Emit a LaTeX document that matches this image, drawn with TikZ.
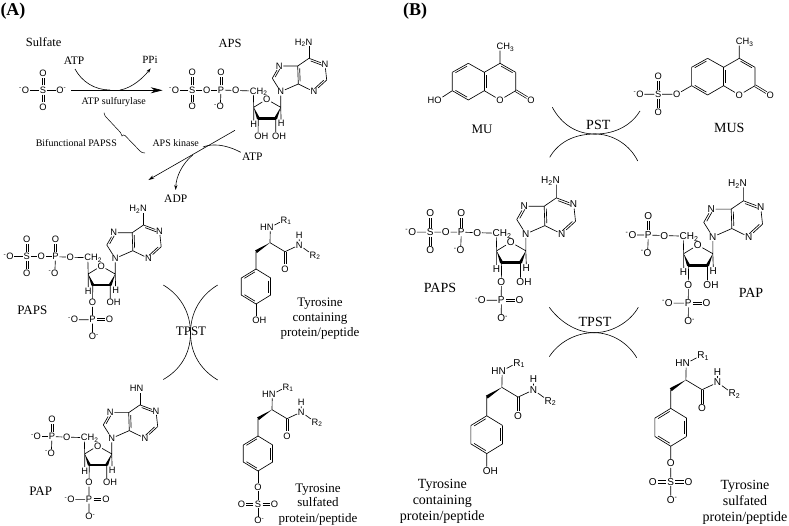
\documentclass[tikz,border=0pt]{standalone}
\usepackage{fontspec}
\setmainfont{Liberation Serif}
\newfontfamily\chemfont{Liberation Sans}
\usetikzlibrary{calc,arrows.meta}
\def\atomsize{9.3}
\newcommand{\atomfont}{\chemfont\fontsize{\atomsize}{\atomsize}\selectfont}
\newcommand{\lab}[1]{\fontsize{#1}{#1}\selectfont}
\newcommand{\negL}{\llap{\textsuperscript{-}}}
\newcommand{\negR}{\rlap{\textsuperscript{-}}}
\tikzset{
  atom/.style={font=\atomfont,inner sep=0.6pt,text depth=0pt},
  bond/.style={line width=0.65pt},
  arc/.style={line width=0.6pt},
  tag/.style={inner sep=0pt,align=center,text depth=0pt},
  smalltip/.style={-{Stealth[length=5pt,width=3.2pt]}},
}
% inner line of a ring double bond
\newcommand{\dbl}[3]{%
  \draw[bond] (#1) -- (#2);
  \draw[bond,shorten <=2.5pt,shorten >=2.5pt] ($(#1)!1.9pt!#3:(#2)$) -- ($(#2)!1.9pt!-#3:(#1)$);}
% exocyclic double bond between two atoms; #3 is the shortening at the start
\newcommand{\ddb}[3]{%
  \draw[bond,line width=0.55pt,shorten <=#3,shorten >=4.6pt] ($(#1)!1pt!90:(#2)$) -- ($(#2)!1pt!-90:(#1)$);
  \draw[bond,line width=0.55pt,shorten <=#3,shorten >=4.6pt] ($(#1)!1pt!-90:(#2)$) -- ($(#2)!1pt!90:(#1)$);}
% wedge: narrow at #1, wide at #2
\newcommand{\wedgebond}[3]{%
  \fill ($(#1)$) -- ($(#2)!#3!90:(#1)$) -- ($(#2)!#3!-90:(#1)$) -- cycle;}
% adenine + ribose, coordinates in the frame of APS
\newcommand{\Nucleoside}[1]{%
  \node[atom] (n6) at (309,42) {#1};
  \coordinate (c6) at (309,58.3);
  \node[atom] (n1) at (325,64.3) {N};
  \coordinate (c2) at (326.7,80);
  \node[atom] (n3) at (314,91.7) {N};
  \coordinate (c4) at (298.3,84);
  \coordinate (c5) at (297.7,66);
  \node[atom] (n7) at (279.3,66) {N};
  \coordinate (c8) at (272.3,78.3);
  \node[atom] (n9) at (280.7,91.7) {N};
  \coordinate (r1) at (280.7,107.3);
  \node[atom] (ro) at (266.7,99.3) {O};
  \coordinate (r2) at (275.7,118.3);
  \coordinate (r3) at (258.3,118.3);
  \coordinate (r4) at (253.7,107.3);
  \node[atom] (ch) at (253.3,91) {C\rlap{H\textsubscript{2}}};
  \node[atom] (hl) at (253.7,124.3) {H};
  \node[atom] (hr) at (281.2,123.5) {H};
  \node[atom] (o2) at (275.7,136) {O\rlap{H}};
  \draw[bond] (c6) -- (n6);
  \dbl{c6}{n1}{-90}
  \draw[bond] (n1) -- (c2);
  \dbl{c2}{n3}{-90}
  \draw[bond] (n3) -- (c4);
  \dbl{c4}{c5}{-90}
  \draw[bond] (c5) -- (c6) (c5) -- (n7) (c8) -- (n9) (n9) -- (c4);
  \dbl{n7}{c8}{90}
  \draw[bond] (r1) -- (n9) (r1) -- (ro) (ro) -- (r4) (r4) -- (ch) (r4) -- (hl) (r1) -- (hr) (r2) -- (o2);
  \wedgebond{r4}{r3}{1.5pt}
  \wedgebond{r1}{r2}{1.5pt}
  \draw[line width=2.6pt,line cap=round] (r3) -- (r2);
}
\newcommand{\ThreeOH}{%
  \node[atom] (o3) at (258,136) {O\rlap{H}};
  \draw[bond] (r3) -- (o3);}
\newcommand{\ThreePhos}{%
  \node[atom] (o3) at (258,136) {O};
  \node[atom] (p3) at (258,153) {P};
  \node[atom] (p3l) at (240,153) {\negL O};
  \node[atom] (p3r) at (275,153) {O};
  \node[atom] (p3b) at (258,170) {O\negR};
  \draw[bond] (r3) -- (o3) (o3) -- (p3) (p3) -- (p3l) (p3) -- (p3b);
  \ddb{p3}{p3r}{4.6pt}}
\newcommand{\FivePhos}{%
  \node[atom] (o5) at (235.7,90.5) {O};
  \node[atom] (p5) at (221,90) {P};
  \node[atom] (p5t) at (221,72.7) {O};
  \node[atom] (p5b) at (220.3,106.7) {\negL O};
  \draw[bond] (ch) -- (o5) (o5) -- (p5) (p5) -- (p5b);
  \ddb{p5}{p5t}{4.6pt}}
\newcommand{\FiveEnd}{%
  \node[atom] (o6) at (206.3,90) {\negL O};
  \draw[bond] (p5) -- (o6);}
\newcommand{\FiveSulf}{%
  \node[atom] (o6) at (206.7,90) {O};
  \node[atom] (s5) at (192.3,90) {S};
  \node[atom] (s5t) at (192.3,72.7) {O};
  \node[atom] (s5b) at (192.3,106.7) {O};
  \node[atom] (s5l) at (175.5,90) {\negL O};
  \draw[bond] (p5) -- (o6) (o6) -- (s5) (s5) -- (s5l);
  \ddb{s5}{s5t}{4.6pt}
  \ddb{s5}{s5b}{4.6pt}}
% tyrosine residue
\newcommand{\TyrCore}{%
  \node[atom] (hn) at (270.3,227.3) {\llap{H}N};
  \node[atom] (r1l) at (284,220) {R\rlap{\textsubscript{1}}};
  \coordinate (ca) at (270,242.7);
  \coordinate (cb) at (256,251.7);
  \coordinate (co) at (285,251.7);
  \node[atom] (oo) at (285,269) {O};
  \node[atom] (nh) at (299.3,245) {N};
  \node[atom] (hh) at (299.3,235.3) {H};
  \node[atom] (r2l) at (313,255) {R\rlap{\textsubscript{2}}};
  \coordinate (a1) at (256,269);
  \coordinate (a2) at (270.7,278);
  \coordinate (a3) at (270.7,295);
  \coordinate (a4) at (256,304);
  \coordinate (a5) at (241.3,295);
  \coordinate (a6) at (241.3,278);
  \draw[bond] (hn) -- (r1l) (hn) -- (ca) (ca) -- (co) (co) -- (nh) (nh) -- (hh) (nh) -- (r2l) (cb) -- (a1);
  \ddb{co}{oo}{0pt}
  \wedgebond{ca}{cb}{1.6pt}
  \draw[bond] (a1) -- (a2) (a3) -- (a4) (a5) -- (a6);
  \dbl{a2}{a3}{-90}
  \dbl{a4}{a5}{-90}
  \dbl{a6}{a1}{-90}
}
\newcommand{\TyrOH}{%
  \node[atom] (oh) at (256,320) {O\rlap{H}};
  \draw[bond] (a4) -- (oh);}
\newcommand{\TyrSulf}{%
  \node[atom] (os) at (256,320) {O};
  \node[atom] (st) at (256,337) {S};
  \node[atom] (sl) at (239.5,337) {O};
  \node[atom] (sr) at (272.5,337) {O};
  \node[atom] (sb) at (256,353.7) {O\negR};
  \draw[bond] (a4) -- (os) (os) -- (st) (st) -- (sb);
  \ddb{st}{sl}{4.6pt}
  \ddb{st}{sr}{4.6pt}}
% methylumbelliferone skeleton
\newcommand{\Coumarin}{%
  \node[atom] (me) at (500,46.7) {C\rlap{H\textsubscript{3}}};
  \coordinate (k4) at (500,63.3);
  \coordinate (k3) at (515.7,72.3);
  \coordinate (k2) at (515.7,90.7);
  \node[atom] (k1) at (500,100) {O};
  \node[atom] (ko) at (531,100) {O};
  \coordinate (k8a) at (484.3,90.7);
  \coordinate (k4a) at (484.3,72.3);
  \coordinate (k5) at (468.3,63.3);
  \coordinate (k6) at (452.3,72.3);
  \coordinate (k7) at (452.3,90.7);
  \coordinate (k8) at (468.3,100);
  \draw[bond] (k4) -- (me) (k3) -- (k2) (k2) -- (k1) (k1) -- (k8a) (k4a) -- (k4) (k4a) -- (k5) (k6) -- (k7) (k8) -- (k8a);
  \ddb{k2}{ko}{0pt}
  \dbl{k4}{k3}{-90}
  \dbl{k8a}{k4a}{-90}
  \dbl{k8}{k7}{-90}
  \dbl{k6}{k5}{-90}
}
\begin{document}
\begin{tikzpicture}[x=1pt,y=-1pt]
\useasboundingbox (0,0) rectangle (789,525);
% panel letters
\node[tag,font=\bfseries\lab{18}] (pa) at (13,9) {(A)};
\node[tag,font=\bfseries\lab{18}] (pb) at (415,9) {(B)};
% panel A : labels
\node[tag,font=\lab{12.5}] (tsulfate) at (43.7,42) {Sulfate};
\node[tag,font=\lab{12.5}] (taps) at (230,43) {APS};
\node[tag,font=\lab{11.5}] (atp1) at (74,61) {ATP};
\node[tag,font=\lab{11}] (ppi) at (150,60) {PPi};
\node[tag,font=\lab{10}] (sulfurylase) at (113.7,101) {ATP sulfurylase};
\node[tag,font=\lab{10}] (bifunc) at (76.3,143.3) {Bifunctional PAPSS};
\node[tag,font=\lab{10}] (kinase) at (175.7,142.7) {APS kinase};
\node[tag,font=\lab{11.5}] (atp2) at (252.3,156.7) {ATP};
\node[tag,font=\lab{11.5}] (adp) at (175.7,198.3) {ADP};
\node[tag,font=\lab{13}] (tpapsa) at (32.3,309.7) {PAPS};
\node[tag,font=\lab{13}] (tpapa) at (40.7,491.7) {PAP};
\node[tag,font=\lab{13}] (tpsta) at (191,331) {TPST};
\node[tag,font=\lab{13},text height=9pt] (tcontl1) at (320,301.7) {Tyrosine};
\node[tag,font=\lab{13},text height=9pt] (tcontl2) at (320,316.7) {containing};
\node[tag,font=\lab{13},text height=9pt] (tcontl3) at (320,332) {protein/peptide};
\node[tag,font=\lab{13},text height=9pt] (tsulfl1) at (318,487.7) {Tyrosine};
\node[tag,font=\lab{13},text height=9pt] (tsulfl2) at (318,502.3) {sulfated};
\node[tag,font=\lab{13},text height=9pt] (tsulfl3) at (318,517.7) {protein/peptide};
% panel A : reaction arrows
\coordinate (s1) at (71,90.3);
\coordinate (s2) at (162.7,90.3);
\draw[arc,-{Stealth[length=12pt,width=6pt]}] (s1) -- (s2);
\coordinate (x1) at (75,69);
\coordinate (x2) at (110,90);
\coordinate (x3) at (120,90);
\coordinate (x4) at (150.7,68.3);
\draw[arc] (x1) .. controls (82,82) and (95,90) .. (x2);
\draw[arc,smalltip] (x3) .. controls (132,88) and (143,78) .. (x4);
\coordinate (b1) at (104,112.7);
\coordinate (b2) at (145,153);
\draw[line width=0.5pt] (b1) .. controls (104.5,115) and (105,116) .. (106,117) -- (120.5,132.5) .. controls (121.5,133.5) and (121.5,135) .. (122,136) .. controls (122.5,135) and (124,134.5) .. (125,135.5) -- (140,151) .. controls (141,152.5) and (143,153) .. (b2);
\coordinate (d1) at (235,130.3);
\coordinate (d2) at (148.3,180);
\draw[arc,-{Stealth[length=6pt,width=3.4pt]}] (d1) -- (d2);
\coordinate (y1) at (240.7,152.3);
\coordinate (y2) at (203,147);
\coordinate (y3) at (192.7,155);
\coordinate (y4) at (175.7,190);
\draw[arc] (y1) .. controls (225,144) and (212,143.5) .. (y2);
\draw[arc,smalltip] (y3) .. controls (183,163) and (176,176) .. (y4);
% panel A : TPST crossing
\coordinate (ta) at (163.3,285);
\coordinate (tb) at (217.7,285);
\coordinate (tc) at (163.3,379.5);
\coordinate (td) at (217.7,380);
\coordinate (tm) at (190.5,333);
\draw[arc] (ta) .. controls (180,295) and (190.5,312) .. (tm) .. controls (190.5,354) and (180,370) .. (tc);
\draw[arc] (tb) .. controls (201,295) and (190.5,312) .. (tm) .. controls (190.5,354) and (201,370) .. (td);
% sulfate
\node[atom] (so4) at (43,90) {S};
\node[atom] (so4l) at (25.5,90) {\negL O};
\node[atom] (so4r) at (60,90) {O\negR};
\node[atom] (so4t) at (43,73) {O};
\node[atom] (so4b) at (43,107) {O};
\draw[bond] (so4) -- (so4l) (so4) -- (so4r);
\ddb{so4}{so4t}{4.6pt}
\ddb{so4}{so4b}{4.6pt}
% APS
\begin{scope}[name prefix=aps-]
  \Nucleoside{\llap{H\textsubscript{2}}N}
  \ThreeOH \FivePhos \FiveSulf
\end{scope}
% PAPS panel A
\begin{scope}[shift={(-165.5,166.7)},name prefix=papsa-]
  \Nucleoside{\llap{H\textsubscript{2}}N}
  \ThreePhos \FivePhos \FiveSulf
\end{scope}
% PAP panel A
\begin{scope}[shift={(-169,346.6)},name prefix=papa-]
  \Nucleoside{\llap{H}N}
  \ThreePhos \FivePhos \FiveEnd
\end{scope}
% tyrosines panel A
\begin{scope}[name prefix=tyra-]
  \TyrCore \TyrOH
\end{scope}
\begin{scope}[shift={(2,167)},name prefix=tysa-]
  \TyrCore \TyrSulf
\end{scope}
% panel B : coumarins
\begin{scope}[name prefix=mu-]
  \Coumarin
  \node[atom] (ho) at (438,100) {\llap{H}O};
  \draw[bond] (k7) -- (ho);
\end{scope}
\begin{scope}[shift={(239.3,-5)},name prefix=mus-]
  \Coumarin
  \node[atom] (o7) at (437.4,99.3) {O};
  \node[atom] (s7) at (419,99.3) {S};
  \node[atom] (s7t) at (419,81) {O};
  \node[atom] (s7b) at (419,117.3) {O};
  \node[atom] (s7l) at (400.7,99.3) {\negL O};
  \draw[bond] (k7) -- (o7) (o7) -- (s7) (s7) -- (s7l);
  \ddb{s7}{s7t}{4.6pt}
  \ddb{s7}{s7b}{4.6pt}
\end{scope}
\node[tag,font=\lab{13}] (tmu) at (482,129.3) {MU};
\node[tag,font=\lab{14}] (tmus) at (729.3,128.3) {MUS};
\node[tag,font=\lab{14}] (tpst) at (598.3,125) {PST};
\node[tag,font=\lab{14}] (tpapsb) at (440,288.3) {PAPS};
\node[tag,font=\lab{14}] (tpapb) at (751,293.3) {PAP};
\node[tag,font=\lab{14}] (ttpstb) at (595,321.7) {TPST};
\node[tag,font=\lab{14},text height=9.5pt] (bcl1) at (442.3,484) {Tyrosine};
\node[tag,font=\lab{14},text height=9.5pt] (bcl2) at (442.3,500) {containing};
\node[tag,font=\lab{14},text height=9.5pt] (bcl3) at (442.3,516) {protein/peptide};
\node[tag,font=\lab{14},text height=9.5pt] (bsl1) at (745,484.3) {Tyrosine};
\node[tag,font=\lab{14},text height=9.5pt] (bsl2) at (745,500.7) {sulfated};
\node[tag,font=\lab{14},text height=9.5pt] (bsl3) at (745,516.7) {protein/peptide};
% panel B : crossings
\coordinate (pm) at (595,134);
\coordinate (p1) at (552.3,107.3);
\coordinate (p2) at (640,111);
\coordinate (p3) at (549.7,157.3);
\coordinate (p4) at (637.7,161);
\draw[arc] (p1) .. controls (562,125) and (577,134) .. (pm);
\draw[arc] (p2) .. controls (632,124) and (617,134) .. (pm);
\draw[arc] (p3) .. controls (558,143) and (573,134) .. (pm);
\draw[arc] (p4) .. controls (630,145) and (613,134) .. (pm);
\coordinate (qm) at (594,332.7);
\coordinate (q1) at (549.3,307.3);
\coordinate (q2) at (638.3,307.3);
\coordinate (q3) at (549.3,356.7);
\coordinate (q4) at (636.7,357.7);
\draw[arc] (q1) .. controls (560,322) and (577,332.7) .. (qm);
\draw[arc] (q2) .. controls (630,322) and (612,332.7) .. (qm);
\draw[arc] (q3) .. controls (558,343) and (575,332.7) .. (qm);
\draw[arc] (q4) .. controls (628,343) and (612,332.7) .. (qm);
% PAPS panel B
\begin{scope}[shift={(222.6,134.9)},scale=1.08,name prefix=papsb-]
  \def\atomsize{10}
  \Nucleoside{\llap{H\textsubscript{2}}N}
  \ThreePhos \FivePhos \FiveSulf
\end{scope}
% PAP panel B
\begin{scope}[shift={(409.6,137.8)},scale=1.08,name prefix=papb-]
  \def\atomsize{10}
  \Nucleoside{\llap{H\textsubscript{2}}N}
  \ThreePhos \FivePhos \FiveEnd
\end{scope}
% tyrosines panel B
\begin{scope}[shift={(210.2,125.2)},scale=1.08,name prefix=tyrb-]
  \def\atomsize{10}
  \TyrCore \TyrOH
\end{scope}
\begin{scope}[shift={(394.2,117.8)},scale=1.08,name prefix=tysb-]
  \def\atomsize{10}
  \TyrCore \TyrSulf
\end{scope}
\end{tikzpicture}
\end{document}
